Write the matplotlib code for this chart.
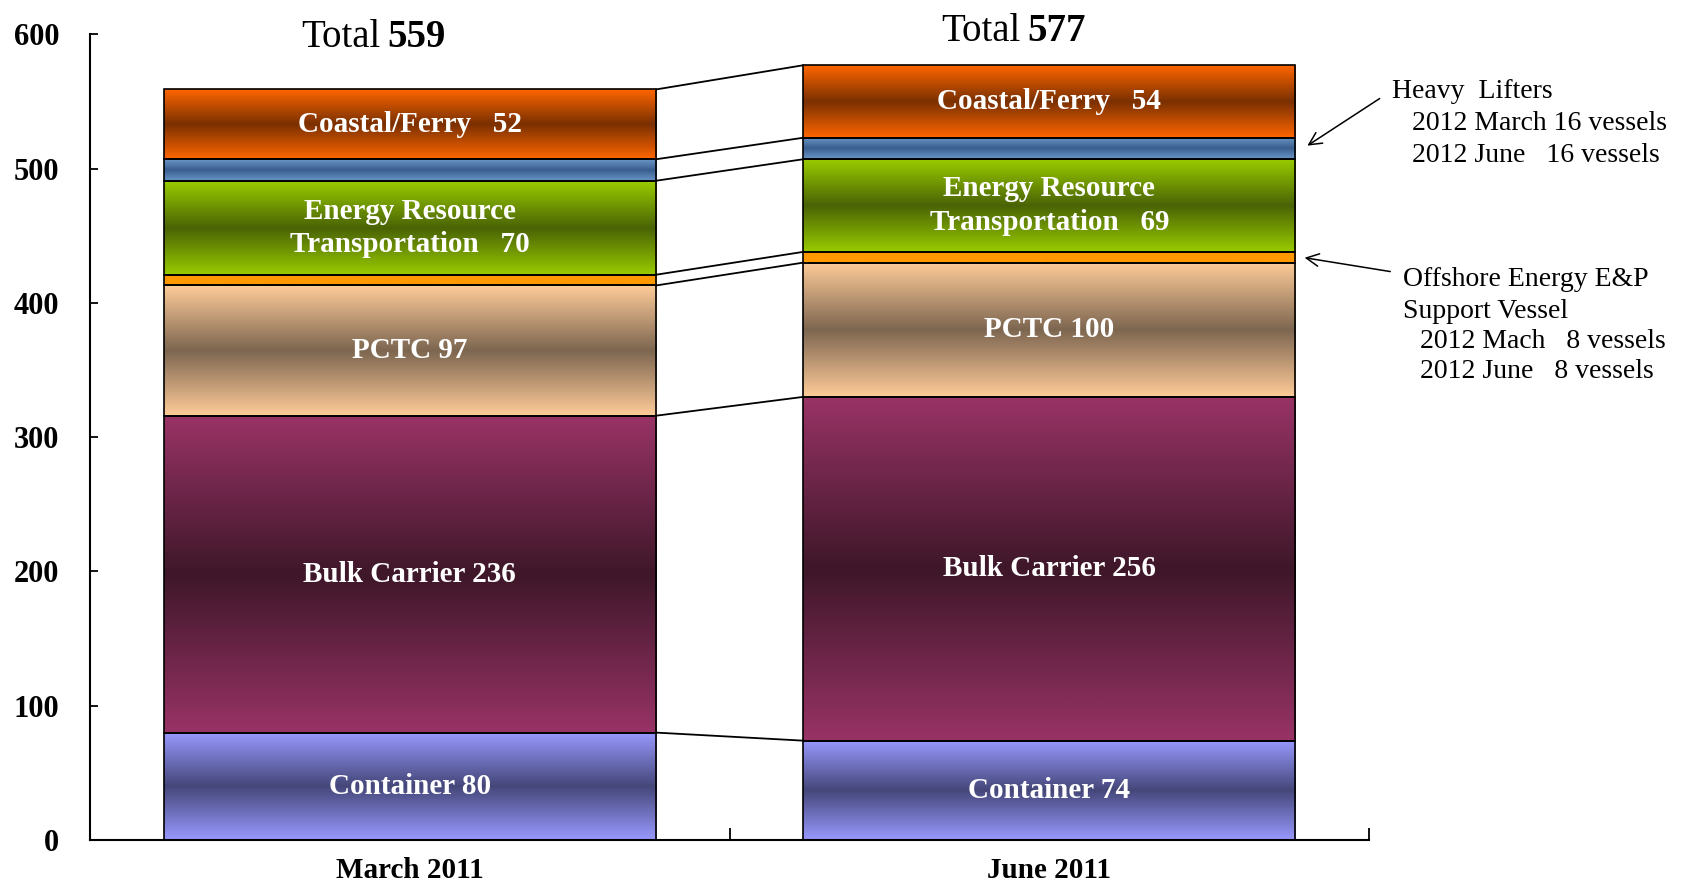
import numpy as np
import matplotlib
matplotlib.use("Agg")
import matplotlib.pyplot as plt
from matplotlib.colors import LinearSegmentedColormap

plt.rcParams['font.family'] = ['Liberation Serif', 'DejaVu Serif']

# data (bottom to top)
periods = ["March 2011", "June 2011"]
segments = ["Container", "Bulk Carrier", "PCTC", "Offshore", "Energy", "Heavy Lifters", "Coastal/Ferry"]
march_vals = [80, 236, 97, 8, 70, 16, 52]
june_vals = [74, 256, 100, 8, 69, 16, 54]
label_fmt = ["Container {}", "Bulk Carrier {}", "PCTC {}", None,
             "Energy Resource\nTransportation   {}", None, "Coastal/Ferry   {}"]

# gradient colours: edge colour, centre colour
light_cols = ["#9999ff", "#993366", "#ffcc99", "#ff9900", "#99cc00", "#6a96c8", "#ff6600"]
dark_cols = ["#45477a", "#3e1729", "#7d6650", "#ff9900", "#4a6305", "#3a5f8f", "#7a3000"]

values = np.array([march_vals, june_vals])
totals = values.sum(axis=1)

fig = plt.figure(figsize=(16.86, 8.88), dpi=100)
ax = fig.add_axes([90 / 1686, 1 - 840 / 888, (1369 - 90) / 1686, (840 - 34.4) / 888])

x = np.arange(len(periods))
width = 0.77
grad = np.linspace(0, 1, 256).reshape(-1, 1)

bottoms = np.zeros(len(periods))
for k, seg in enumerate(segments):
    vals = values[:, k]
    bars = ax.bar(x, vals, width, bottom=bottoms, facecolor='none',
                  edgecolor='black', linewidth=1.2, zorder=3)
    cmap = LinearSegmentedColormap.from_list(
        seg, [light_cols[k], dark_cols[k], light_cols[k]])
    for b in bars:
        x0, y0 = b.get_x(), b.get_y()
        im = ax.imshow(grad, extent=[x0, x0 + b.get_width(), y0, y0 + b.get_height()],
                       aspect='auto', cmap=cmap, origin='lower', zorder=2,
                       interpolation='bilinear')
        im.set_clip_path(b)
    if label_fmt[k]:
        for i in range(len(periods)):
            ax.text(x[i], bottoms[i] + vals[i] / 2, label_fmt[k].format(vals[i]),
                    ha='center', va='center', color='white', fontsize=21,
                    fontweight='bold', linespacing=1.3, zorder=4)
    bottoms = bottoms + vals

# connecting lines between bars at every boundary
cum = np.cumsum(values, axis=1)
for k in range(len(segments)):
    ax.plot([x[0] + width / 2, x[1] - width / 2], [cum[0, k], cum[1, k]],
            color='black', linewidth=1.3, zorder=3)

# totals above bars
total_y = [598, 602]
for i in range(len(periods)):
    ax.text(x[i] - 0.045, total_y[i], "Total", ha='right', va='center',
            fontsize=28, clip_on=False)
    ax.text(x[i] - 0.035, total_y[i], str(totals[i]), ha='left', va='center',
            fontsize=28, fontweight='bold', clip_on=False)

ax.set_xlim(-0.5, 1.5)
ax.set_ylim(0, 600)
ax.set_yticks(np.arange(0, 601, 100))
ax.set_xticks([-0.5, 0.5, 1.5])
ax.set_xticklabels([])
ax.set_xticks(x, minor=True)
ax.set_xticklabels(periods, minor=True)
ax.tick_params(axis='x', which='major', direction='in', length=9, width=1.3)
ax.tick_params(axis='x', which='minor', length=0, pad=12, labelsize=21)
ax.tick_params(axis='y', direction='in', length=6, width=1.3, pad=22, labelsize=22)
for lab in ax.get_xticklabels(minor=True) + ax.get_yticklabels():
    lab.set_fontweight('bold')
for s in ['top', 'right']:
    ax.spines[s].set_visible(False)
for s in ['left', 'bottom']:
    ax.spines[s].set_linewidth(1.5)

# side annotations
W, H = 1686, 888
def ftext(px, py, s):
    fig.text(px / W, 1 - py / H, s, ha='left', va='center', fontsize=20)

ftext(1392, 91, "Heavy  Lifters")
ftext(1412, 123, "2012 March 16 vessels")
ftext(1412, 155, "2012 June   16 vessels")
ftext(1403, 279, "Offshore Energy E&P")
ftext(1403, 311, "Support Vessel")
ftext(1420, 342, "2012 Mach   8 vessels")
ftext(1420, 372, "2012 June   8 vessels")

arrow = dict(arrowstyle='->,head_length=0.9,head_width=0.45', color='black', lw=1.1)
ax.annotate("", xy=(1.40, 516), xycoords='data',
            xytext=(1382 / W, 1 - 97 / H), textcoords='figure fraction',
            arrowprops=arrow, annotation_clip=False)
ax.annotate("", xy=(1.395, 434), xycoords='data',
            xytext=(1393 / W, 1 - 272 / H), textcoords='figure fraction',
            arrowprops=arrow, annotation_clip=False)

fig.savefig("out.png", dpi=100)
